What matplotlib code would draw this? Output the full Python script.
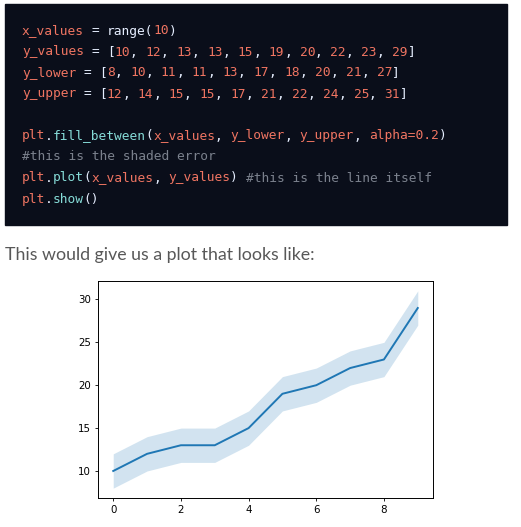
import matplotlib
matplotlib.use("Agg")
import matplotlib.pyplot as plt
from matplotlib.patches import Rectangle

# data shown in the plot
x_values = list(range(10))
y_values = [10, 12, 13, 13, 15, 19, 20, 22, 23, 29]
y_lower = [8, 10, 11, 11, 13, 17, 18, 20, 21, 27]
y_upper = [12, 14, 15, 15, 17, 21, 22, 24, 25, 31]

# code snippet as (text, colour-key) segments per line
code_lines = [
    [("x_values", "n"), ("=", "w"), ("range(", "w"), ("10", "n"), (")", "w")],
    [("y_values", "n"), ("=", "w"), ("[", "w"), ("10", "n"), (",", "w"), ("12", "n"), (",", "w"),
     ("13", "n"), (",", "w"), ("13", "n"), (",", "w"), ("15", "n"), (",", "w"),
     ("19", "n"), (",", "w"), ("20", "n"), (",", "w"), ("22", "n"), (",", "w"),
     ("23", "n"), (",", "w"), ("29", "n"), ("]", "w")],
    [("y_lower", "n"), ("=", "w"), ("[", "w"), ("8", "n"), (",", "w"), ("10", "n"), (",", "w"),
     ("11", "n"), (",", "w"), ("11", "n"), (",", "w"), ("13", "n"), (",", "w"),
     ("17", "n"), (",", "w"), ("18", "n"), (",", "w"), ("20", "n"), (",", "w"),
     ("21", "n"), (",", "w"), ("27", "n"), ("]", "w")],
    [("y_upper", "n"), ("=", "w"), ("[", "w"), ("12", "n"), (",", "w"), ("14", "n"), (",", "w"),
     ("15", "n"), (",", "w"), ("15", "n"), (",", "w"), ("17", "n"), (",", "w"),
     ("21", "n"), (",", "w"), ("22", "n"), (",", "w"), ("24", "n"), (",", "w"),
     ("25", "n"), (",", "w"), ("31", "n"), ("]", "w")],
    [],
    [("plt", "n"), (".", "w"), ("fill_between", "f"), ("(", "w"), ("x_values", "n"),
     (",", "w"), ("y_lower", "n"), (",", "w"), ("y_upper", "n"), (",", "w"),
     ("alpha=0.2", "n"), (")", "w")],
    [("#this is the shaded error", "c")],
    [("plt", "n"), (".", "w"), ("plot", "f"), ("(", "w"), ("x_values", "n"), (",", "w"),
     ("y_values", "n"), (")", "w"), ("#this is the line itself", "c")],
    [("plt", "n"), (".", "w"), ("show", "f"), ("()", "w")],
]
# source text of each line, used to find the column of every segment
code_src = [
    "x_values = range(10)",
    "y_values = [10, 12, 13, 13, 15, 19, 20, 22, 23, 29]",
    "y_lower = [8, 10, 11, 11, 13, 17, 18, 20, 21, 27]",
    "y_upper = [12, 14, 15, 15, 17, 21, 22, 24, 25, 31]",
    "",
    "plt.fill_between(x_values, y_lower, y_upper, alpha=0.2)",
    "#this is the shaded error",
    "plt.plot(x_values, y_values) #this is the line itself",
    "plt.show()",
]
caption = "This would give us a plot that looks like:"

W, H = 521, 527
palette = {"n": "#f07562", "w": "#e6eeff", "f": "#86dcd8", "c": "#7b818d"}

fig = plt.figure(figsize=(W / 100, H / 100), dpi=100)
fig.patch.set_facecolor("white")

# dark code panel
fig.patches.append(Rectangle((5 / W, 1 - 225 / H), 502 / W, 221 / H,
                             transform=fig.transFigure, color="#0a0e1a", zorder=0))

pitch = 7.71  # px per character in the reference
for row, (segs, src) in enumerate(zip(code_lines, code_src)):
    y = 31 + row * 21
    col = 0
    for text, key in segs:
        col = src.index(text, col)
        fig.text((22 + col * pitch) / W, 1 - y / H, text, color=palette[key],
                 family="DejaVu Sans Mono", fontsize=9.3, va="center", ha="left")
        col += len(text)

fig.text(5 / W, 1 - 255 / H, caption, color="#585858", family="Lato",
         fontsize=12.8, va="center", ha="left")

# the plot itself (a 72-dpi notebook image shown at 1:1)
ax = fig.add_axes([98 / W, 1 - 498 / H, 335 / W, 217 / H])
ax.fill_between(x_values, y_lower, y_upper, alpha=0.2, color="#1f77b4", lw=0)
ax.plot(x_values, y_values, color="#1f77b4", lw=1.4)
ax.set_xticks([0, 2, 4, 6, 8])
ax.set_yticks([10, 15, 20, 25, 30])
ax.tick_params(labelsize=7.4, length=2.5, width=0.6, pad=2.5)
for s in ax.spines.values():
    s.set_linewidth(0.7)

fig.savefig("out.png", dpi=100)
